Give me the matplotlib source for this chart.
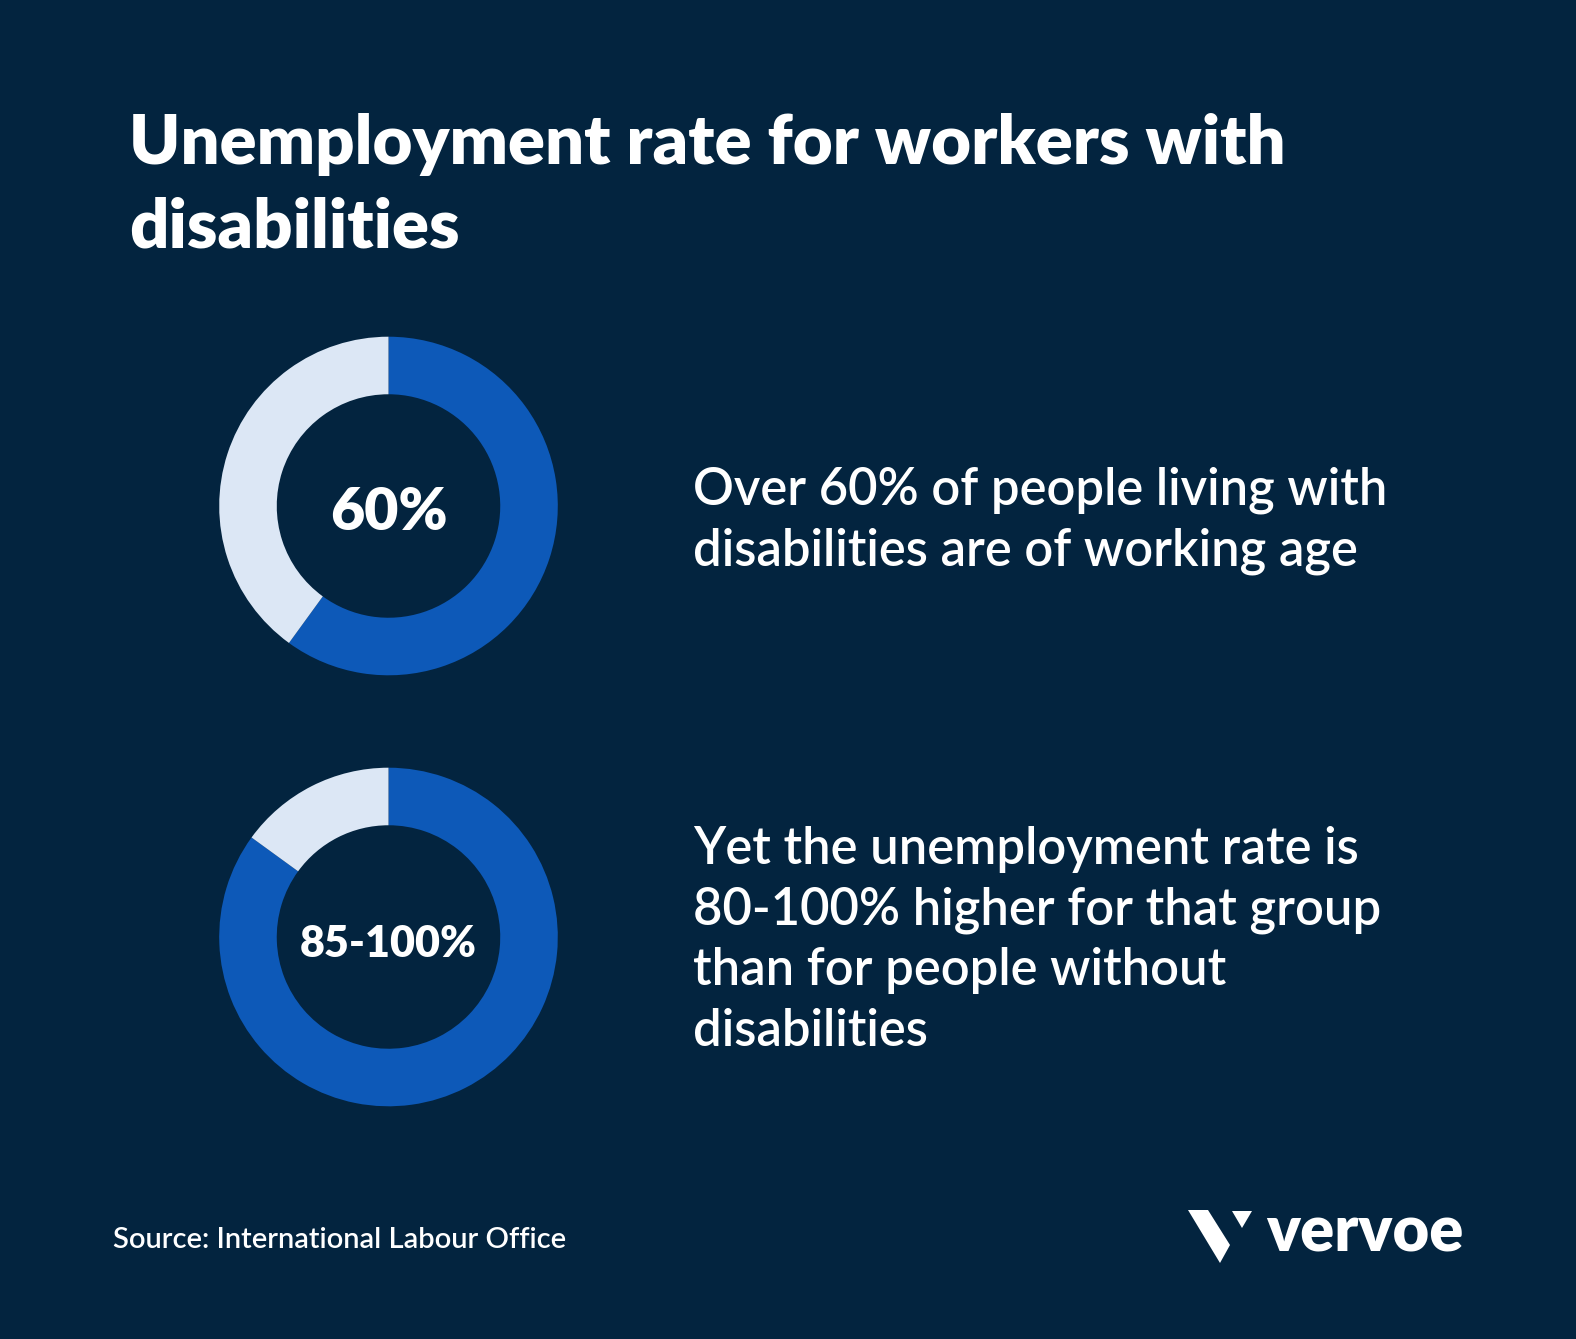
import matplotlib.pyplot as plt
from matplotlib.patches import Polygon

# data
shares = [60, 85]
center_labels = ['60%', '85-100%']
descriptions = [
    ['Over 60% of people living with', 'disabilities are of working age'],
    ['Yet the unemployment rate is', '80-100% higher for that group',
     'than for people without', 'disabilities'],
]
title_lines = ['Unemployment rate for workers with', 'disabilities']
source = 'Source: International Labour Office'

bg = '#03243F'
blue = '#0D59B8'
light = '#DCE7F5'

W, H = 1576, 1339
fig = plt.figure(figsize=(W / 100, H / 100), dpi=100, facecolor=bg)
plt.rcParams['font.family'] = ['Lato', 'DejaVu Sans']


def fx(x):
    return x / W


def fy(y):
    return 1 - y / H


# title
for i, line in enumerate(title_lines):
    fig.text(fx(129), fy(164 + 83 * i), line, color='white', fontsize=49.5,
             fontweight='heavy', va='baseline', ha='left')

# donuts
centers = [(388.5, 506), (388.5, 937)]
R = 169.3
for share, label, (cx, cy), desc, base in zip(shares, center_labels, centers, descriptions, [505, 864]):
    ax = fig.add_axes([fx(cx - R), fy(cy + R), 2 * R / W, 2 * R / H])
    ax.pie([share, 100 - share], colors=[blue, light], startangle=90, counterclock=False,
           radius=1, wedgeprops=dict(width=0.34, linewidth=0))
    ax.set_xlim(-1, 1)
    ax.set_ylim(-1, 1)
    ax.set_aspect('equal')
    ax.axis('off')
    ax.text(0, -0.04, label, color='white', fontsize=42.5 if len(label) < 5 else 31,
            fontweight='heavy', ha='center', va='center')
    for j, line in enumerate(desc):
        fig.text(fx(693), fy(base + 60.5 * j), line, color='white', fontsize=36.5,
                 fontweight='semibold', va='baseline', ha='left')

# source
fig.text(fx(113), fy(1248), source, color='white', fontsize=21, fontweight='semibold',
         va='baseline', ha='left')

# logo
left_arm = [(1188, 1210), (1208, 1210), (1230, 1245), (1220, 1263)]
tri = [(1232, 1211), (1252, 1211), (1242, 1228)]
for pts in (left_arm, tri):
    fig.patches.append(Polygon([(fx(x), fy(y)) for x, y in pts], closed=True,
                               transform=fig.transFigure, facecolor='white', edgecolor='none'))
fig.text(fx(1266), fy(1251), 'vervoe', color='white', fontsize=45.5, fontweight='heavy',
         va='baseline', ha='left')

plt.savefig('out.png', dpi=100, facecolor=bg)
